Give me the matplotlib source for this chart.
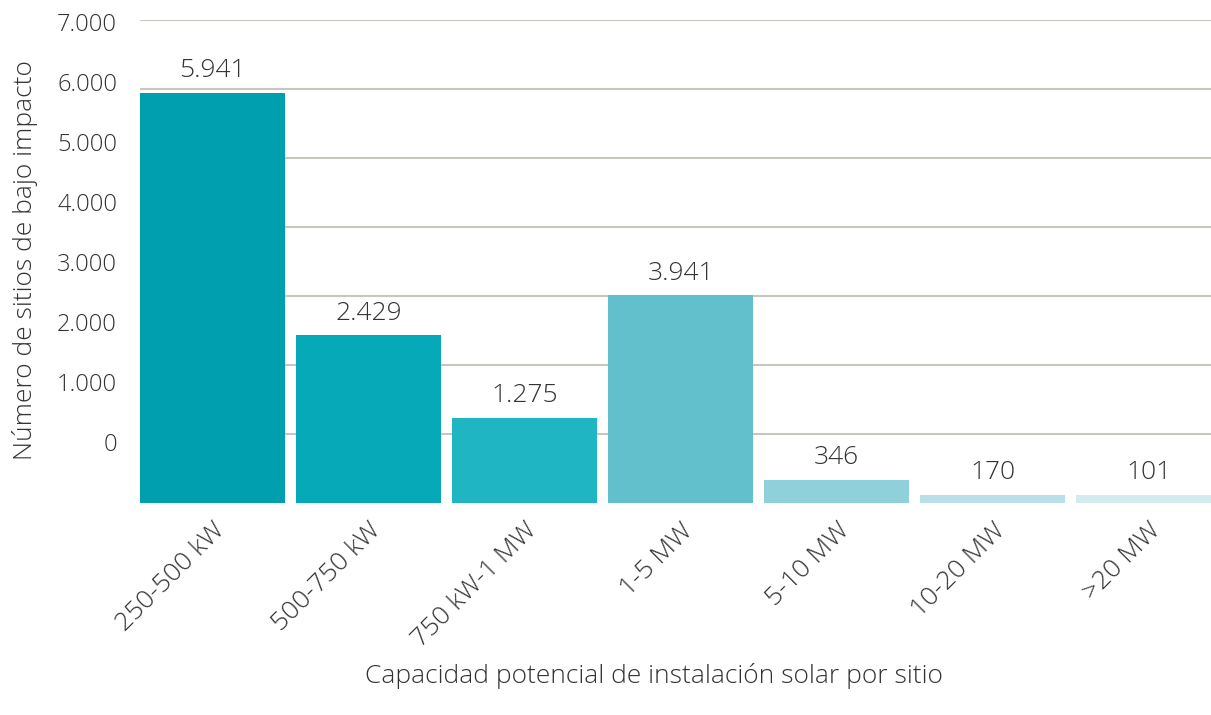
import matplotlib
matplotlib.use("Agg")
import matplotlib.pyplot as plt
from matplotlib.ticker import FixedLocator, FuncFormatter

categories = ["250-500 kW", "500-750 kW", "750 kW-1 MW", "1-5 MW", "5-10 MW", "10-20 MW", ">20 MW"]
label_values = [5941, 2429, 1275, 3941, 346, 170, 101]
# heights as drawn in the reference (bars are not all to scale with their labels)
bar_heights = [5941, 2429, 1232, 3010, 335, 116, 116]
colors = ["#009fb0", "#05a9b8", "#20b5c3", "#62c0cd", "#8fd0da", "#b8e0e6", "#d3ebef"]
grid_values = [1000, 2000, 3000, 4000, 5000, 6000, 7000]
ytick_values = [0, 1000, 2000, 3000, 4000, 5000, 6000, 7000]

plt.rcParams['font.family'] = ['Open Sans', 'DejaVu Sans']
FW = 'light'
FS = 19
FS_Y = 17
TXT = "#333333"

W, H = 1211, 715
fig = plt.figure(figsize=(W / 100, H / 100), dpi=100)
left = 140 / W
bottom = (H - 503) / H
height = (503 - 20) / H
ax = fig.add_axes([left, bottom, 1 - left, height])

x = list(range(len(categories)))
ax.bar(x, bar_heights, width=0.93, color=colors, zorder=3)
ax.set_xlim(-0.465, 6.40)
ax.set_ylim(0, 7000)

ax.yaxis.set_major_locator(FixedLocator(grid_values))
ax.yaxis.grid(True, color="#c9c7bd", linewidth=1.5, zorder=0)
ax.set_xticks(x)
ax.set_xticklabels(categories, rotation=45, ha='right', va='top', rotation_mode='anchor',
                   fontsize=FS, color=TXT, fontweight=FW)
for s in ax.spines.values():
    s.set_visible(False)

def fmt(v):
    return f"{v:,}".replace(",", ".")

for xi, h, v in zip(x, bar_heights, label_values):
    ax.annotate(fmt(v), (xi, h), xytext=(0, 7), textcoords='offset points',
                ha='center', va='bottom', fontsize=FS, color=TXT, fontweight=FW)

# secondary axis carrying the y tick labels (placed as in the reference)
ax2 = ax.twinx()
ax2.set_ylim(-1017, 7033)
ax2.yaxis.set_major_locator(FixedLocator(ytick_values))
ax2.yaxis.set_major_formatter(FuncFormatter(lambda v, p: fmt(int(v))))
ax2.yaxis.tick_left()
ax2.tick_params(axis='y', left=False, right=False, length=0, pad=16.5, labelsize=FS_Y,
                labelcolor=TXT, labelleft=True, labelright=False)
for lbl in ax2.get_yticklabels():
    lbl.set_fontweight(FW)
for s in ax2.spines.values():
    s.set_visible(False)

ax.tick_params(axis='y', left=False, right=False, labelleft=False, labelright=False)
ax.tick_params(axis='x', length=0, pad=11)

fig.text(25 / W, 1 - 260 / H, "Número de sitios de bajo impacto", rotation=90,
         ha='center', va='center', fontsize=FS, color=TXT, fontweight=FW)
fig.text(654 / W, 1 - 676 / H, "Capacidad potencial de instalación solar por sitio",
         ha='center', va='center', fontsize=FS, color=TXT, fontweight=FW)

fig.savefig("out.png", dpi=100)
